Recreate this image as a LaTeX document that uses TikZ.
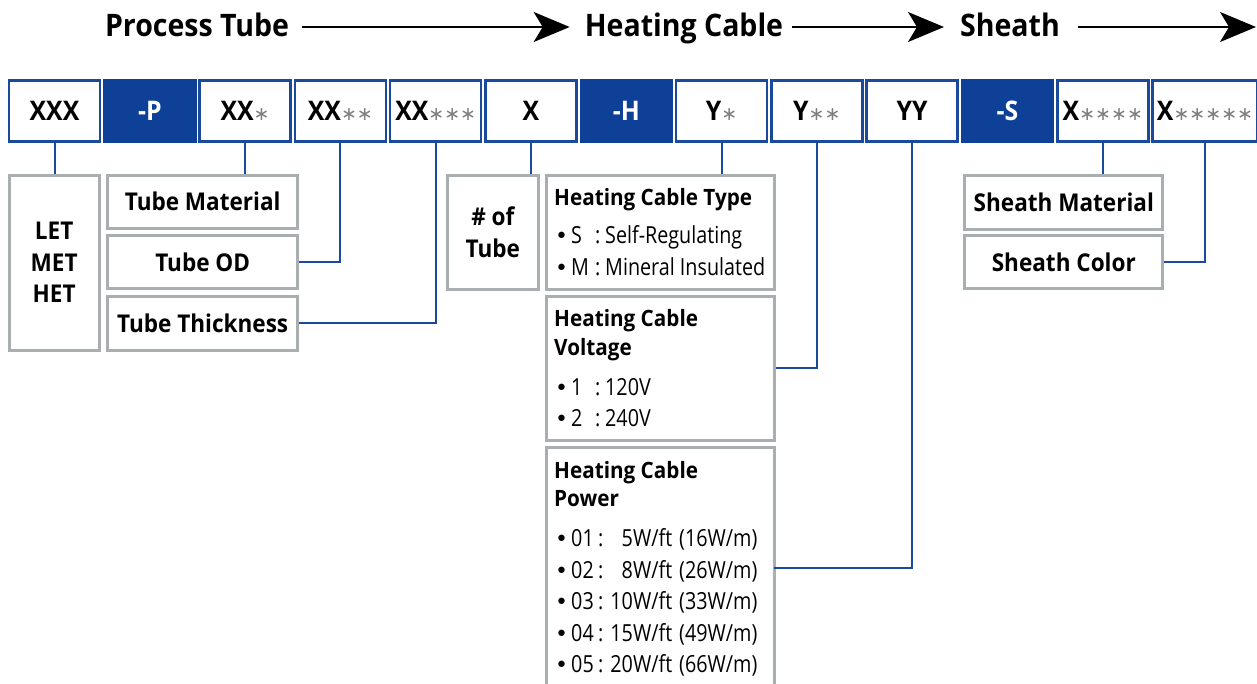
\documentclass[tikz,border=0pt]{standalone}
\usepackage{fontspec}
\setmainfont{Open Sans}
\newfontfamily\condfont{Open Sans}[FakeStretch=0.84]
\newfontfamily\boldfam{Open Sans}[FakeStretch=0.92]
\newcommand{\boldfont}{\boldfam\bfseries}
\newfontfamily\astfont{DejaVu Sans}
\usetikzlibrary{arrows.meta}
\definecolor{navy}{HTML}{0D4096}
\definecolor{lineblue}{HTML}{1A4A9C}
\definecolor{boxgray}{HTML}{A9AEB1}
\definecolor{astgray}{HTML}{7F7F7F}
\newcommand{\astr}[1]{{\astfont\mdseries\fontsize{19}{20}\selectfont\color{astgray}#1}}
\newcommand{\dotb}{{\astfont\fontsize{22}{22}\selectfont•}}
\newcommand{\bl}[2]{\makebox[16pt][l]{\dotb}\makebox[24pt][l]{#1}\makebox[10pt][l]{:}#2}
\newcommand{\pw}[3]{\makebox[16pt][l]{\dotb}\makebox[27pt][l]{#1}\makebox[7pt][l]{:}\makebox[67pt][r]{#2}\hspace{7pt}#3}
\begin{document}
\begin{tikzpicture}[x=1pt,y=-1pt,
  code/.style={draw=lineblue, line width=2.5pt, fill=white, minimum width=91pt, minimum height=61pt, inner sep=0pt,
    font=\boldfont\fontsize{27}{30}\selectfont},
  codefill/.style={code, fill=navy, draw=navy, text=white},
  gbox/.style={draw=boxgray, line width=3pt, fill=white, inner sep=0pt, align=center,
    font=\boldfont\fontsize{24.5}{31.5}\selectfont},
  title/.style={inner sep=0pt, text height=23pt, text depth=5pt, font=\boldfont\fontsize{31}{36}\selectfont},
  arr/.style={line width=1.5pt, -{Stealth[length=36pt,width=30pt,inset=9pt]}},
  conn/.style={draw=lineblue, line width=2pt},
  head/.style={anchor=base west, inner sep=0pt, font=\boldfont\fontsize{22.5}{28.3}\selectfont, align=left},
  item/.style={anchor=base west, inner sep=0pt, font=\condfont\fontsize{23.5}{31.5}\selectfont, align=left}]
\useasboundingbox (0,0) rectangle (1257,683);
% titles
\node[title] (pt) at (197,27) {Process Tube};
\node[title] (hc) at (684,27) {Heating Cable};
\node[title] (sh) at (1010,27) {Sheath};
\coordinate (end) at (1256,27);
\draw[arr] ([xshift=13pt]pt.east) -- ([xshift=-15pt]hc.west);
\draw[arr] ([xshift=9pt]hc.east) -- ([xshift=-16pt]sh.west);
\draw[arr] ([xshift=18pt]sh.east) -- (end);
% code boxes
\node[code] (b0) at (54.5,111) {XXX};
\node[codefill] (b1) at (149.8,111) {-P};
\node[code] (b2) at (245.1,111) {XX\astr{∗}};
\node[code] (b3) at (340.4,111) {XX\astr{∗∗}};
\node[code] (b4) at (435.7,111) {XX\astr{∗∗∗}};
\node[code] (b5) at (531,111) {X};
\node[codefill] (b6) at (626.3,111) {-H};
\node[code] (b7) at (721.6,111) {Y\astr{∗}};
\node[code] (b8) at (816.9,111) {Y\astr{∗∗}};
\node[code] (b9) at (912.2,111) {YY};
\node[codefill] (b10) at (1007.5,111) {-S};
\node[code] (b11) at (1102.8,111) {X\astr{∗∗∗∗}};
\node[code, minimum width=105pt] (b12) at (1205,111) {X\astr{∗∗∗∗∗}};
% gray boxes
\node[gbox, minimum width=90.3pt, minimum height=175pt] (let) at (54.2,262.5) {LET\\MET\\HET};
\node[gbox, minimum width=190pt, minimum height=53.3pt] (tm) at (202.7,201.7) {Tube Material};
\node[gbox, minimum width=190pt, minimum height=52.6pt] (tod) at (202.7,262) {Tube OD};
\node[gbox, minimum width=190pt, minimum height=54pt] (tth) at (202.7,323) {Tube Thickness};
\node[gbox, minimum width=91pt, minimum height=114pt] (ntube) at (492.8,232) {\# of\\Tube};
\node[gbox, minimum width=228pt, minimum height=114pt] (hct) at (660,232) {};
\node[gbox, minimum width=228pt, minimum height=144pt] (volt) at (660,368) {};
\node[gbox, minimum width=228pt, minimum height=272pt] (pow) at (660,583.6) {};
\node[gbox, minimum width=197.7pt, minimum height=54pt] (smat) at (1063.8,202) {Sheath Material};
\node[gbox, minimum width=197.7pt, minimum height=53.3pt] (scol) at (1063.8,262.3) {Sheath Color};
% texts inside
\node[head] (hct-h) at (554,205) {Heating Cable Type};
\node[item] (hct-1) at (555,243.3) {\bl{S}{Self-Regulating}};
\node[item] (hct-2) at (555,275) {\bl{M}{Mineral Insulated}};
\node[head] (volt-h) at (554,355) {Heating Cable\\Voltage};
\node[item] (volt-1) at (555,395) {\bl{1}{120V}};
\node[item] (volt-2) at (555,426.7) {\bl{2}{240V}};
\node[head] (pow-h) at (554,506.7) {Heating Cable\\Power};
\node[item] (pow-1) at (555,546.7) {\pw{01}{5W/ft}{(16W/m)}};
\node[item] (pow-2) at (555,578.2) {\pw{02}{8W/ft}{(26W/m)}};
\node[item] (pow-3) at (555,609.7) {\pw{03}{10W/ft}{(33W/m)}};
\node[item] (pow-4) at (555,641.2) {\pw{04}{15W/ft}{(49W/m)}};
\node[item] (pow-5) at (555,672.7) {\pw{05}{20W/ft}{(66W/m)}};
% connectors
\coordinate (powin) at (774,567.7);
\draw[conn] (b0.south) -- (b0.south |- let.north);
\draw[conn] (b2.south) -- (b2.south |- tm.north);
\draw[conn] (b3.south) |- (tod.east);
\draw[conn] (b4.south) |- (tth.east);
\draw[conn] (b5.south) -- (b5.south |- ntube.north);
\draw[conn] (b7.south) -- (b7.south |- hct.north);
\draw[conn] (b8.south) |- (volt.east);
\draw[conn] (b9.south) |- (powin);
\draw[conn] (b11.south) -- (b11.south |- smat.north);
\draw[conn] (b12.south) |- (scol.east);
\end{tikzpicture}
\end{document}
